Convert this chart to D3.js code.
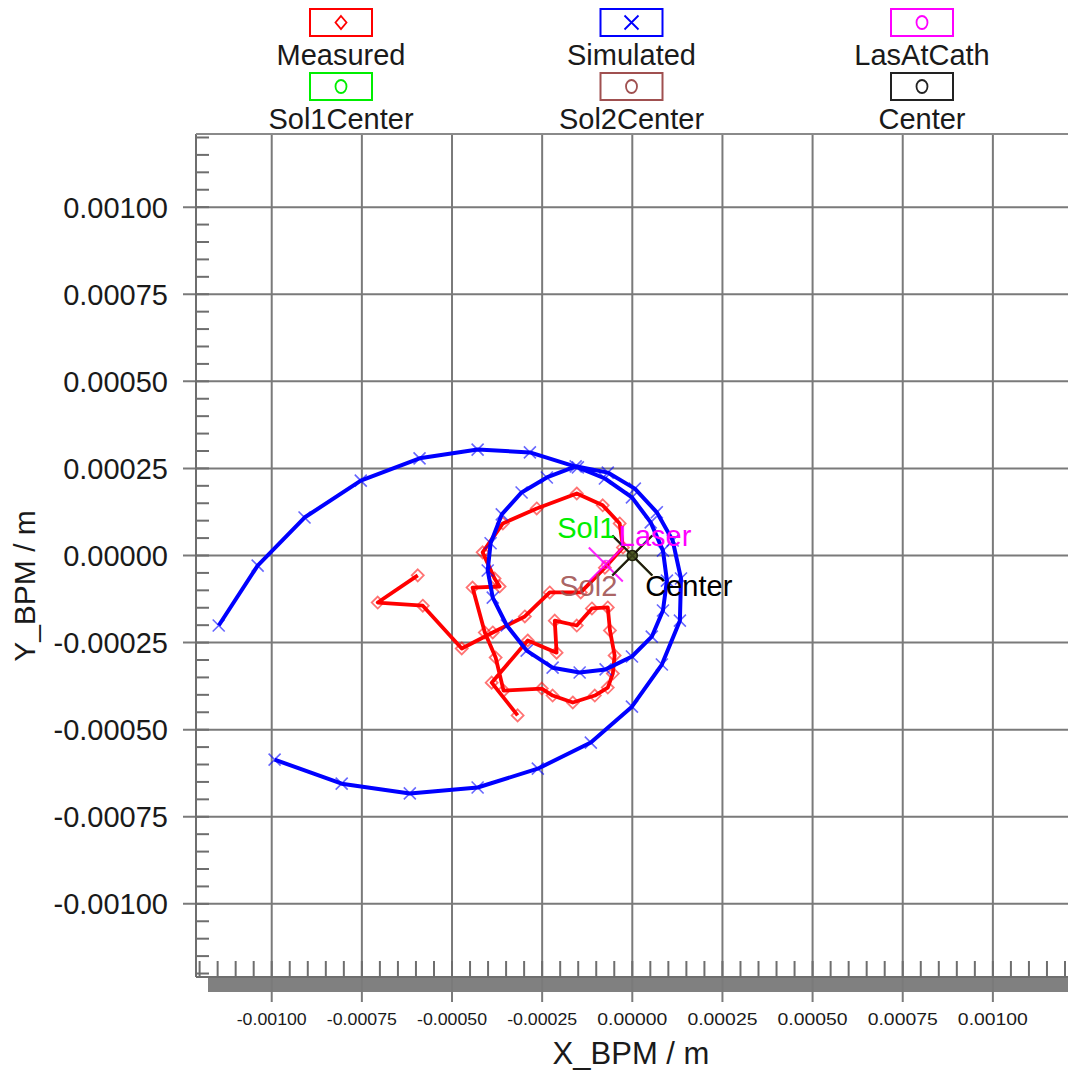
<!DOCTYPE html>
<html>
<head>
<meta charset="utf-8">
<script src="https://cdn.jsdelivr.net/npm/d3@7"></script>
<style>
  body { margin: 0; background: #ffffff; }
  svg { display: block; }
</style>
</head>
<body>
<svg id="chart" width="1068" height="1071"></svg>
<script>
// ---- data (metres) ----
const measuredX = [-0.000595, -0.000706, -0.000581, -0.000473, -0.000387, -0.000298, -0.000229, -0.000143,
  -0.000076, -0.000026, -0.000035, -0.000082, -0.000154, -0.000265, -0.000359, -0.000415, -0.000382, -0.000368,
  -0.000443, -0.000409, -0.000379, -0.000357, -0.000251, -0.000221, -0.000165, -0.000104, -0.000068, -0.000054,
  -0.000049, -0.000062, -0.000068, -0.000112, -0.000154, -0.000215, -0.000210, -0.000290, -0.000390, -0.000318];
const measuredY = [-0.000057, -0.000135, -0.000144, -0.000267, -0.000221, -0.000175, -0.000106, -0.000106,
  -0.000035, 0.000023, 0.000092, 0.000144, 0.000178, 0.000135, 0.000092, 0.000009, -0.000066, -0.000089,
  -0.000092, -0.000221, -0.000293, -0.000388, -0.000382, -0.000402, -0.000422, -0.000402, -0.000379, -0.000339,
  -0.000287, -0.000215, -0.000149, -0.000152, -0.000201, -0.000187, -0.000279, -0.000244, -0.000365, -0.000459];

const simulatedX = [-0.001147, -0.001039, -0.000909, -0.000753, -0.000590, -0.000429, -0.000284, -0.000151,
  -0.000076, -0.000001, 0.000051, 0.000085, 0.000096, 0.000085, 0.000054, -0.000001, -0.000074, -0.000146,
  -0.000221, -0.000293, -0.000348, -0.000387, -0.000401, -0.000393, -0.000362, -0.000307, -0.000237, -0.000157,
  -0.000068, 0.000007, 0.000068, 0.000112, 0.000135, 0.000132, 0.000082, -0.000001, -0.000115, -0.000262,
  -0.000429, -0.000617, -0.000806, -0.000992];
const simulatedY = [-0.000201, -0.000029, 0.000109, 0.000215, 0.000279, 0.000304, 0.000296, 0.000253,
  0.000221, 0.000167, 0.000095, 0.000014, -0.000072, -0.000158, -0.000233, -0.000290, -0.000327, -0.000336,
  -0.000322, -0.000273, -0.000201, -0.000121, -0.000043, 0.000035, 0.000118, 0.000181, 0.000224, 0.000256,
  0.000238, 0.000192, 0.000124, 0.000043, -0.000066, -0.000187, -0.000313, -0.000434, -0.000537, -0.000612,
  -0.000666, -0.000683, -0.000655, -0.000586];

// single reference points: laser spot on cathode, solenoid centres, axis centre
const pointNames = ["LasAtCath", "Sol1Center", "Sol2Center", "Center"];
const pointTags  = ["Laser", "Sol1", "Sol2", "Center"];
const pointX = [-0.0000735, 0.0, 0.0, 0.0];
const pointY = [-0.0000258, 0.0, 0.0, 0.0];

const legendNames = ["Measured", "Simulated", "LasAtCath", "Sol1Center", "Sol2Center", "Center"];

const xTickValues = [-0.001, -0.00075, -0.0005, -0.00025, 0, 0.00025, 0.0005, 0.00075, 0.001];
const xTickLabels = ["-0.00100", "-0.00075", "-0.00050", "-0.00025", "0.00000", "0.00025", "0.00050", "0.00075", "0.00100"];
const yTickValues = [-0.001, -0.00075, -0.0005, -0.00025, 0, 0.00025, 0.0005, 0.00075, 0.001];
const yTickLabels = ["-0.00100", "-0.00075", "-0.00050", "-0.00025", "0.00000", "0.00025", "0.00050", "0.00075", "0.00100"];

// ---- styling ----
const FONT = "'Liberation Sans', Arial, sans-serif";
const C = {
  measured: "#ff0000", simulated: "#0000ff", laser: "#ff00ff",
  sol1: "#00ee00", sol2: "#a05050", center: "#000000",
  grid: "#7a7a7a", axis: "#6e6e6e"
};
const seriesColor = { LasAtCath: C.laser, Sol1Center: C.sol1, Sol2Center: C.sol2, Center: C.center };

const svg = d3.select("#chart");
const plotLeft = 196, plotRight = 1068.6, plotTop = 134, plotBottom = 977;

const x = d3.scaleLinear().domain([-0.00121, 0.00121]).range([plotLeft, plotRight]);
const y = d3.scaleLinear().domain([-0.00121, 0.00121]).range([plotBottom, plotTop]);

const minorTicks = d3.range(-24, 25).map(i => i * 0.00005);

// bottom shaded strip
svg.append("rect").attr("x", 208).attr("y", plotBottom + 1).attr("width", 1068 - 208).attr("height", 14)
  .attr("fill", "#808080");

// grid lines
const g = svg.append("g");
g.selectAll(".gx").data(xTickValues).join("line")
  .attr("x1", d => x(d)).attr("x2", d => x(d))
  .attr("y1", plotTop).attr("y2", plotBottom + 25)
  .attr("stroke", C.grid).attr("stroke-width", 2);
g.selectAll(".gy").data(yTickValues).join("line")
  .attr("x1", plotLeft - 13).attr("x2", 1068)
  .attr("y1", d => y(d)).attr("y2", d => y(d))
  .attr("stroke", C.grid).attr("stroke-width", 2);

// frame
svg.append("line").attr("x1", plotLeft).attr("x2", plotLeft).attr("y1", plotTop).attr("y2", plotBottom)
  .attr("stroke", C.axis).attr("stroke-width", 2);
svg.append("line").attr("x1", plotLeft).attr("x2", 1068).attr("y1", plotTop).attr("y2", plotTop)
  .attr("stroke", "#8a8a8a").attr("stroke-width", 2);
svg.append("line").attr("x1", plotLeft).attr("x2", 1068).attr("y1", plotBottom).attr("y2", plotBottom)
  .attr("stroke", C.axis).attr("stroke-width", 2);

// minor ticks (inside)
const inRange = minorTicks.filter(v => Math.abs(v) <= 0.00121);
svg.append("g").selectAll("line").data(inRange).join("line")
  .attr("x1", plotLeft).attr("x2", plotLeft + 13)
  .attr("y1", d => y(d)).attr("y2", d => y(d))
  .attr("stroke", C.axis).attr("stroke-width", 2);
svg.append("g").selectAll("line").data(inRange).join("line")
  .attr("x1", d => x(d)).attr("x2", d => x(d))
  .attr("y1", plotBottom).attr("y2", plotBottom - 16)
  .attr("stroke", C.axis).attr("stroke-width", 2);

// tick labels
svg.append("g").selectAll("text").data(yTickValues).join("text")
  .attr("x", 168).attr("y", d => y(d)).attr("dy", "0.36em")
  .attr("text-anchor", "end").attr("font-family", FONT).attr("font-size", 29).attr("fill", "#1a1a1a")
  .text((d, i) => yTickLabels[i]);
svg.append("g").selectAll("text").data(xTickValues).join("text")
  .attr("x", d => x(d)).attr("y", 1025)
  .attr("text-anchor", "middle").attr("font-family", FONT).attr("font-size", 16).attr("fill", "#1a1a1a")
  .attr("textLength", 70).attr("lengthAdjust", "spacingAndGlyphs")
  .text((d, i) => xTickLabels[i]);

// axis titles
svg.append("text").attr("x", 631).attr("y", 1064).attr("text-anchor", "middle")
  .attr("font-family", FONT).attr("font-size", 31).attr("fill", "#1a1a1a").text("X_BPM / m");
svg.append("text").attr("transform", "translate(35,586) rotate(-90)").attr("text-anchor", "middle")
  .attr("font-family", FONT).attr("font-size", 30).attr("fill", "#1a1a1a").text("Y_BPM / m");

// ---- series ----
const line = d3.line().x(d => x(d[0])).y(d => y(d[1]));
const measured = measuredX.map((v, i) => [v, measuredY[i]]);
const simulated = simulatedX.map((v, i) => [v, simulatedY[i]]);

const plot = svg.append("g");

plot.append("path").datum(measured).attr("d", line)
  .attr("fill", "none").attr("stroke", C.measured).attr("stroke-width", 3.8).attr("stroke-linejoin", "round");
plot.append("g").selectAll("path").data(measured).join("path")
  .attr("transform", d => `translate(${x(d[0])},${y(d[1])})`)
  .attr("d", "M0,-6L6,0L0,6L-6,0Z")
  .attr("fill", "none").attr("stroke", C.measured).attr("stroke-width", 1.8).attr("stroke-opacity", 0.55);

plot.append("path").datum(simulated).attr("d", line)
  .attr("fill", "none").attr("stroke", C.simulated).attr("stroke-width", 4).attr("stroke-linejoin", "round");
plot.append("g").selectAll("path").data(simulated).join("path")
  .attr("transform", d => `translate(${x(d[0])},${y(d[1])})`)
  .attr("d", "M-6,-6L6,6M-6,6L6,-6")
  .attr("fill", "none").attr("stroke", C.simulated).attr("stroke-width", 1.6).attr("stroke-opacity", 0.6);

// reference points: big crosses with a small ring
const pts = pointNames.map((n, i) => ({ name: n, tag: pointTags[i], x: pointX[i], y: pointY[i] }));
const markerSize = { LasAtCath: 17, Sol1Center: 20, Sol2Center: 20, Center: 20 };
const pg = plot.append("g");
pts.forEach(p => {
  const s = markerSize[p.name];
  const gx = pg.append("g").attr("transform", `translate(${x(p.x)},${y(p.y)})`);
  gx.append("path").attr("d", `M${-s},${-s}L${s},${s}M${-s},${s}L${s},${-s}`)
    .attr("stroke", seriesColor[p.name]).attr("stroke-width", 2)
    .attr("stroke-opacity", p.name === "Center" ? 0.75 : 0.85);
  gx.append("circle").attr("r", p.name === "LasAtCath" ? 4 : 5)
    .attr("fill", p.name === "LasAtCath" ? "none" : "#4d5a20")
    .attr("fill-opacity", 0.6)
    .attr("stroke", seriesColor[p.name]).attr("stroke-width", 1.5).attr("stroke-opacity", 0.7);
});
// tag labels around the reference points
const tagOffset = {
  LasAtCath: { dx: 13, dy: -18, anchor: "start" },
  Sol1Center: { dx: -17, dy: -18, anchor: "end" },
  Sol2Center: { dx: -15, dy: 40, anchor: "end" },
  Center: { dx: 13, dy: 40, anchor: "start" }
};
pts.forEach(p => {
  const o = tagOffset[p.name];
  pg.append("text").attr("x", x(p.x) + o.dx).attr("y", y(p.y) + o.dy)
    .attr("text-anchor", o.anchor).attr("font-family", FONT).attr("font-size", 29)
    .attr("fill", seriesColor[p.name]).attr("fill-opacity", p.name === "Sol2Center" ? 0.9 : 1)
    .text(p.tag);
});

// ---- legend ----
const legendColors = [C.measured, C.simulated, C.laser, C.sol1, C.sol2, "#222222"];
const legendSymbols = ["diamond", "cross", "circle", "circle", "circle", "circle"];
const colCenter = [341, 631.5, 922];
const rowTop = [9, 73];
const lg = svg.append("g");
legendNames.forEach((name, i) => {
  const cx = colCenter[i % 3], ty = rowTop[Math.floor(i / 3)];
  const item = lg.append("g");
  item.append("rect").attr("x", cx - 31).attr("y", ty).attr("width", 62).attr("height", 27)
    .attr("fill", "#ffffff").attr("stroke", legendColors[i]).attr("stroke-width", 2);
  const sy = ty + 13.5;
  const sym = legendSymbols[i];
  if (sym === "diamond") {
    item.append("path").attr("d", `M${cx},${sy - 6.5}L${cx + 5.5},${sy}L${cx},${sy + 6.5}L${cx - 5.5},${sy}Z`)
      .attr("fill", "none").attr("stroke", legendColors[i]).attr("stroke-width", 1.8);
  } else if (sym === "cross") {
    item.append("path").attr("d", `M${cx - 7},${sy - 7}L${cx + 7},${sy + 7}M${cx - 7},${sy + 7}L${cx + 7},${sy - 7}`)
      .attr("fill", "none").attr("stroke", legendColors[i]).attr("stroke-width", 1.8);
  } else {
    item.append("ellipse").attr("cx", cx).attr("cy", sy).attr("rx", 5.5).attr("ry", 6.5)
      .attr("fill", "none").attr("stroke", legendColors[i]).attr("stroke-width", 1.8);
  }
  item.append("text").attr("x", cx).attr("y", ty + 56).attr("text-anchor", "middle")
    .attr("font-family", FONT).attr("font-size", 29).attr("fill", "#1a1a1a").text(name);
});
</script>
</body>
</html>
